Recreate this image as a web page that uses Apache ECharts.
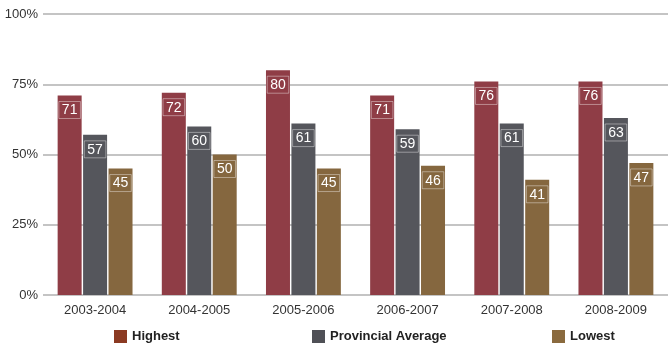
<!DOCTYPE html>
<html><head><meta charset="utf-8">
<script src="https://cdn.jsdelivr.net/npm/echarts@6/dist/echarts.min.js"></script>
<style>html,body{margin:0;padding:0;background:#fff}#c{width:668px;height:352px}</style>
</head><body><div id="c"></div>
<script>
const categories = ['2003-2004','2004-2005','2005-2006','2006-2007','2007-2008','2008-2009'];
const highest = [71,72,80,71,76,76];
const provincial = [57,60,61,59,61,63];
const lowest = [45,50,45,46,41,47];
const yTicks = [0,25,50,75,100];

const chart = echarts.init(document.getElementById('c'));
const labelCfg = {
  show: true, position: 'insideTop', distance: 6,
  color: '#fff', fontSize: 14, fontFamily: 'Liberation Sans, Arial, sans-serif',
  borderColor: 'rgba(255,255,255,0.4)', borderWidth: 1, padding: [2,3,1,3]
};
const legendBase = {bottom: 4, itemWidth: 13, itemHeight: 13, itemGap: 5, icon: 'rect',
  textStyle: {fontFamily: '"Liberation Sans Narrow", "Liberation Sans", Arial, sans-serif', fontWeight: 'bold', fontSize: 13, color: '#222'}};
chart.setOption({
  animation: false,
  grid: {left: 43, right: 0, top: 14, bottom: 57},
  legend: [
    Object.assign({}, legendBase, {left: 109, data: [{name:'Highest', itemStyle:{color:'#8b3a22'}}]}),
    Object.assign({}, legendBase, {left: 307, data: [{name:'Provincial Average', itemStyle:{color:'#4f5056'}}]}),
    Object.assign({}, legendBase, {left: 547, data: [{name:'Lowest', itemStyle:{color:'#8a6a3e'}}]})
  ],
  xAxis: {type: 'category', data: categories,
    axisLine: {show: false}, axisTick: {show: false},
    axisLabel: {color: '#333', fontSize: 13, margin: 9, fontFamily: 'Liberation Sans, Arial, sans-serif'}},
  yAxis: {type: 'value', min: 0, max: 100, interval: 25,
    axisLabel: {formatter: v => yTicks.includes(v) ? v + '%' : '', color: '#333', fontSize: 13, margin: 5, fontFamily: 'Liberation Sans, Arial, sans-serif'},
    splitLine: {lineStyle: {color: '#b0b0b0', width: 1.5}}},
  series: [
    {name: 'Highest', type: 'bar', data: highest, barWidth: 24, barGap: '6%', itemStyle: {color: '#8f3d46'}, label: labelCfg},
    {name: 'Provincial Average', type: 'bar', data: provincial, barWidth: 24, barGap: '6%', itemStyle: {color: '#55565c'}, label: labelCfg},
    {name: 'Lowest', type: 'bar', data: lowest, barWidth: 24, barGap: '6%', itemStyle: {color: '#85673f'}, label: labelCfg}
  ]
});
</script></body></html>
